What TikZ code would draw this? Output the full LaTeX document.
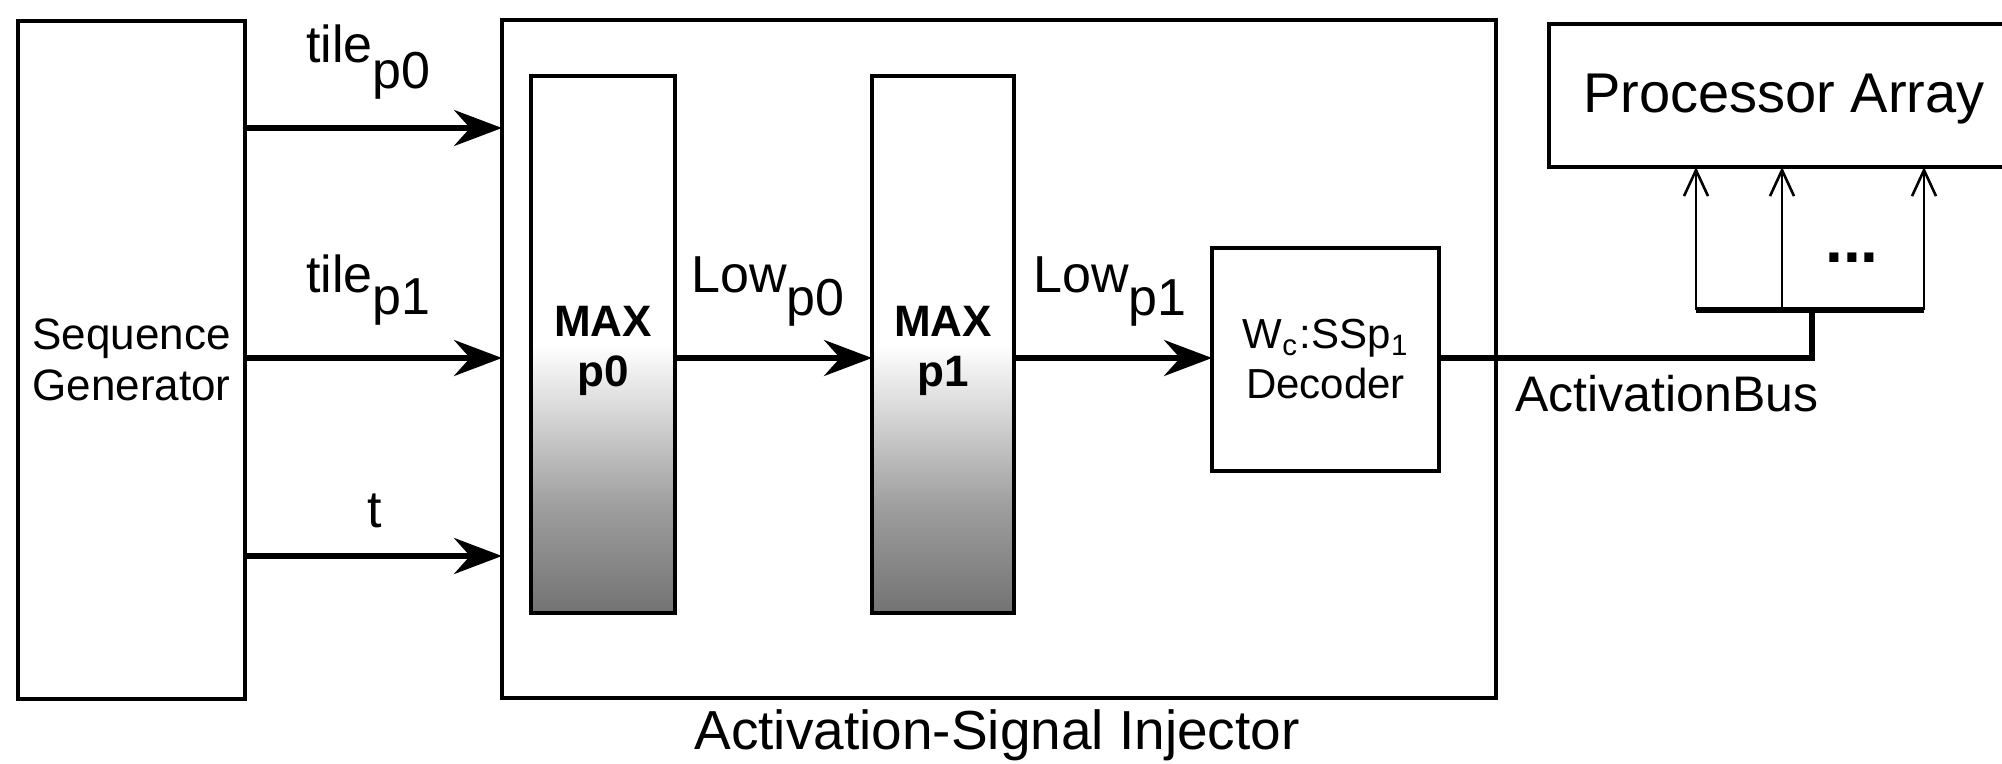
\documentclass[tikz,border=0pt]{standalone}
\usepackage{fontspec}
\setmainfont{Liberation Sans}
\usetikzlibrary{arrows.meta}
\pgfdeclareverticalshading{maxshade}{100bp}{color(0bp)=(black!55); color(25bp)=(black!55); color(35bp)=(black!38); color(44bp)=(black!15); color(50bp)=(white); color(100bp)=(white)}
\begin{document}
\begin{tikzpicture}[x=0.5pt,y=-0.5pt,
  box/.style={draw, line width=1.8pt, inner sep=0pt, outer sep=0pt, rectangle},
  bigarrow/.style={line width=2.6pt, -{Stealth[length=24pt,width=18pt,inset=8pt]}},
  thinarrow/.style={line width=1.3pt, -{Straight Barb[length=13pt,width=12pt]}},
  bus/.style={line width=2.6pt},
  lbl/.style={inner sep=0pt, anchor=base west, font=\fontsize{26}{30}\selectfont},
  maxbar/.style={box, shade, shading=maxshade, minimum width=72pt, minimum height=268.5pt},
  maxtext/.style={inner sep=0pt, align=center, font=\fontsize{22}{25}\selectfont\bfseries, text depth=0pt},
  ]
\useasboundingbox (0,0) rectangle (2002,764);
\clip (0,0) rectangle (2002,764);
\fill[white] (0,0) rectangle (2002,764);

% boxes
\node[box, minimum width=113.5pt, minimum height=339pt, align=center,
      font=\fontsize{22}{25.5}\selectfont] (seq) at (131.5,360) {Sequence\\Generator};
\node[box, minimum width=497pt, minimum height=339pt] (inj) at (999,359) {};
\node[maxbar] (max0) at (603,344.5) {};
\node[maxbar, minimum width=71pt] (max1) at (943,344.5) {};
\node[maxtext] (max0t) at (603,346) {MAX\\p0};
\node[maxtext] (max1t) at (943,346) {MAX\\p1};
\node[box, minimum width=113.5pt, minimum height=111.5pt, align=center,
      font=\fontsize{21}{25}\selectfont] (dec) at (1325.5,359.5)
      {W\textsubscript{c}\kern1pt:SSp\textsubscript{1}\\Decoder};
\node[box, minimum width=240.5pt, minimum height=71.5pt] (proc) at (1789.5,95.5) {};
\node[lbl, font=\fontsize{28}{32}\selectfont] (procl) at (1583,113) {Processor Array};

% coordinates
\coordinate (y0) at (0,128);
\coordinate (y1) at (0,358);
\coordinate (y2) at (0,556);
\coordinate (jb) at (1812,358);
\coordinate (jt) at (1812,310);
\coordinate (b1) at (1696,310);
\coordinate (b2) at (1782,310);
\coordinate (b3) at (1924,310);

% arrows
\draw[bigarrow] (seq.east |- y0) -- (inj.west |- y0);
\draw[bigarrow] (seq.east |- y1) -- (inj.west |- y1);
\draw[bigarrow] (seq.east |- y2) -- (inj.west |- y2);
\draw[bigarrow] (max0.east |- y1) -- (max1.west |- y1);
\draw[bigarrow] (max1.east |- y1) -- (dec.west |- y1);

% bus
\draw[bus] (dec.east |- y1) -- (jb) -- (jt);
\draw[bus] (b1) -- (b3);
\draw[thinarrow] (b1) -- (b1 |- proc.south);
\draw[thinarrow] (b2) -- (b2 |- proc.south);
\draw[thinarrow] (b3) -- (b3 |- proc.south);

% labels
\node[lbl] (tp0) at (306,63) {tile\raisebox{-13pt}{p0}};
\node[lbl] (tp1) at (306,293) {tile\raisebox{-11pt}{p1}};
\node[lbl, anchor=base] (tl) at (375,527) {t};
\node[lbl] (lp0) at (691,293) {Low\raisebox{-11.5pt}{p0}};
\node[lbl] (lp1) at (1033,293) {Low\raisebox{-11.5pt}{p1}};
\node[lbl, font=\fontsize{25}{30}\selectfont] (abus) at (1515,412) {ActivationBus};
\node[lbl, font=\fontsize{27.5}{32}\selectfont] (injl) at (694,749) {Activation-Signal Injector};
\node[inner sep=0pt, font=\fontsize{32}{32}\selectfont\bfseries] (dots) at (1852,258) {...};
\end{tikzpicture}
\end{document}
